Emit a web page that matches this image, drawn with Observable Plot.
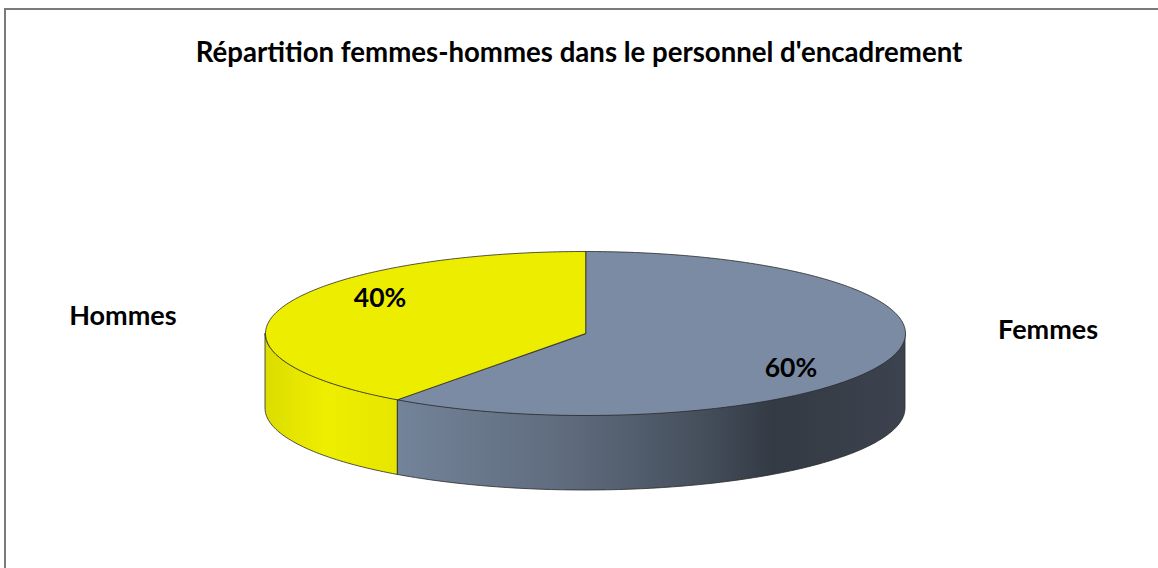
<!DOCTYPE html>
<html><head><meta charset="utf-8">
<script src="https://cdn.jsdelivr.net/npm/d3@7"></script>
<script src="https://cdn.jsdelivr.net/npm/@observablehq/plot@0.6"></script>
<style>
body{margin:0;background:#fff;}
#wrap{position:relative;width:1158px;height:568px;overflow:hidden;font-family:Lato,sans-serif;background:#fff;}
#frame{position:absolute;left:4px;top:8px;width:1200px;height:600px;border-top:2px solid #7a7a7a;border-left:2px solid #7a7a7a;}
#title{position:absolute;top:37px;left:0;width:1158px;text-align:center;font-weight:bold;font-size:27.6px;line-height:30px;color:#000;}
#chart{position:absolute;left:0;top:0;}
</style></head>
<body><div id="wrap"><div id="frame"></div><div id="chart"></div><div id="title">Répartition femmes-hommes dans le personnel d'encadrement</div></div>
<script>
// ---- data ----
const categories = ["Femmes", "Hommes"];
const shares = [60, 40];
const shareLabels = ["60%", "40%"];
const topColors = ["#7a8ba3", "#eded00"];
const sideFills = ["url(#gSideGray)", "url(#gSideYellow)"];

// ---- layout ----
const W = 1158, H = 568;
const cx = 585, cy = 333, rx = 320, ry = 82, depth = 75;
const dv = depth / ry;
const xDomain = [-cx / rx, (W - cx) / rx];
const yDomain = [(cy - H) / ry, cy / ry];

const total = d3.sum(shares);
let acc = 0;
const slices = shares.map((s, i) => {
  const a0 = acc / total * 360;
  acc += s;
  const a1 = acc / total * 360;
  return {i, name: categories[i], a0, a1, mid: (a0 + a1) / 2};
});
const rad = d => d * Math.PI / 180;
function arc(a0, a1) {
  const pts = [];
  const n = Math.max(2, Math.ceil(Math.abs(a1 - a0)));
  for (let k = 0; k <= n; k++) {
    const a = a0 + (a1 - a0) * k / n;
    pts.push({u: Math.sin(rad(a)), v: Math.cos(rad(a))});
  }
  return pts;
}

const marks = [];
// side walls (front half only: 90°..270°)
for (const s of slices) {
  const lo = Math.max(s.a0, 90), hi = Math.min(s.a1, 270);
  if (hi <= lo) continue;
  const pts = arc(lo, hi).map(p => ({u: p.u, vt: p.v, vb: p.v - dv}));
  marks.push(Plot.areaY(pts, {x: "u", y1: "vb", y2: "vt", fill: sideFills[s.i], stroke: "#2a2a2a", strokeWidth: 0.8, curve: "linear"}));
}
// top faces
for (const s of slices) {
  const pts = [{u: 0, v: 0}, ...arc(s.a0, s.a1)];
  marks.push(Plot.line(pts, {x: "u", y: "v", fill: topColors[s.i], stroke: "#2a2a2a", strokeWidth: 0.8, curve: "linear-closed"}));
}
// percentage labels
marks.push(Plot.text(slices, {
  x: d => 0.675 * Math.sin(rad(d.mid)),
  y: d => 1.37 * Math.cos(rad(d.mid)),
  text: d => shareLabels[d.i],
  fontSize: 26.5, fontWeight: "bold", fill: "#000", fontFamily: "Lato"
}));
// category labels
marks.push(Plot.text(slices, {
  x: d => 1.52 * Math.sin(rad(d.mid)),
  y: d => 0.28 * Math.cos(rad(d.mid)) + 0.1235,
  text: d => d.name,
  fontSize: 27, fontWeight: "bold", fill: "#000", fontFamily: "Lato"
}));

const svg = Plot.plot({
  width: W, height: H,
  margin: 0,
  x: {domain: xDomain, axis: null},
  y: {domain: yDomain, axis: null},
  style: {background: "transparent", overflow: "visible"},
  marks
});
svg.insertAdjacentHTML("afterbegin", `<defs>
<linearGradient id="gSideGray" x1="0" x2="1" y1="0" y2="0">
<stop offset="0" stop-color="#738399"/>
<stop offset="0.35" stop-color="#5e6a7c"/>
<stop offset="0.6" stop-color="#454f5c"/>
<stop offset="0.74" stop-color="#333a44"/>
<stop offset="1" stop-color="#3c434e"/>
</linearGradient>
<linearGradient id="gSideYellow" x1="0" x2="1" y1="0" y2="0">
<stop offset="0" stop-color="#dcdc00"/>
<stop offset="0.45" stop-color="#eeee00"/>
<stop offset="1" stop-color="#e6e600"/>
</linearGradient>
</defs>`);
document.getElementById("chart").appendChild(svg);
</script>
</body></html>
